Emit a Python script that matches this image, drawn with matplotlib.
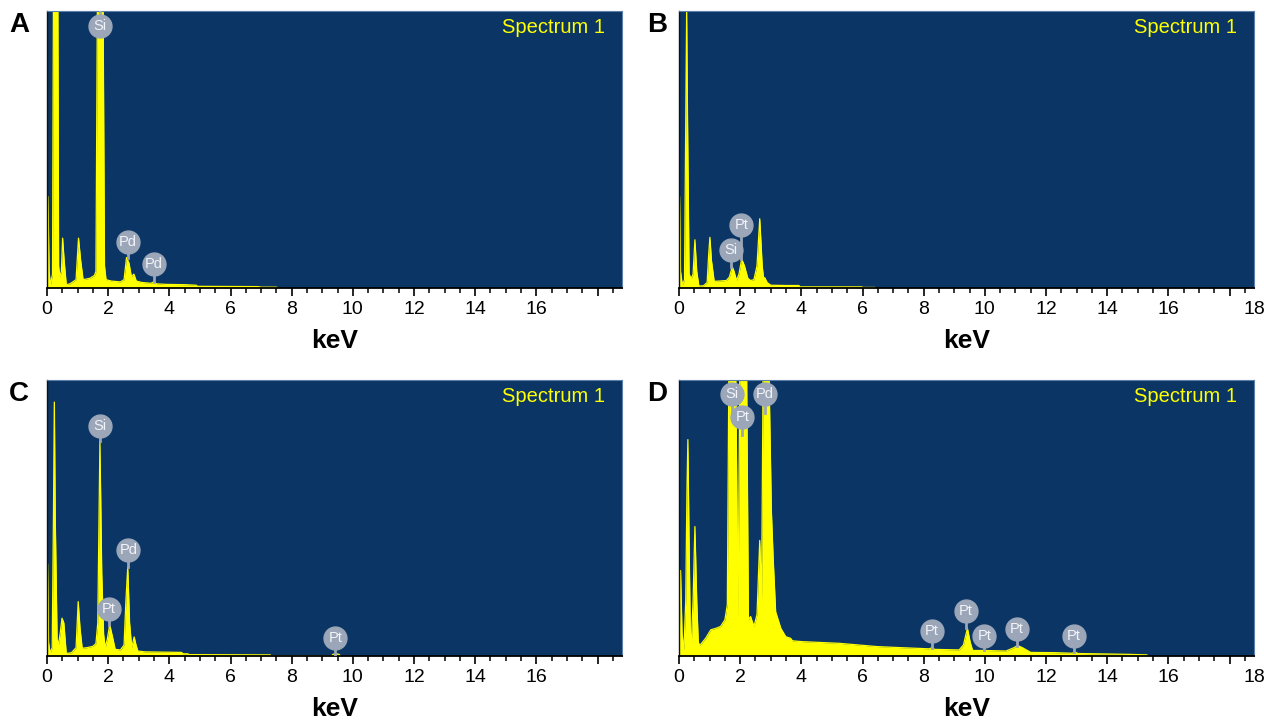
import matplotlib
matplotlib.use("Agg")
import matplotlib.pyplot as plt
from matplotlib.ticker import MultipleLocator

plt.rcParams['font.family'] = ['Liberation Sans', 'DejaVu Sans']

# -------------------------------
# DATA (keV, normalised counts; >1 = clipped peak)
# -------------------------------

energy_a = [0.0, 0.03, 0.07, 0.11, 0.18, 0.215, 0.27, 0.35, 0.38, 0.42, 0.47, 0.51, 0.56,
            0.63, 0.75, 0.95, 1.03, 1.10, 1.18, 1.4, 1.55, 1.60, 1.655, 1.74, 1.825, 1.88,
            1.93, 2.1, 2.4, 2.52, 2.6, 2.68, 2.76, 2.84, 2.92, 3.1, 3.4, 3.49, 3.58, 3.9,
            4.5, 4.88, 4.92, 6.9, 7.0, 7.5, 7.55]
counts_a = [0.0, 0.33, 0.06, 0.01, 0.05, 1.2, 1.5, 1.2, 0.08, 0.04, 0.06, 0.18, 0.10,
            0.012, 0.015, 0.03, 0.18, 0.10, 0.03, 0.035, 0.045, 0.06, 1.2, 1.6, 1.2, 0.08,
            0.03, 0.025, 0.022, 0.03, 0.11, 0.09, 0.04, 0.05, 0.025, 0.02, 0.017, 0.022,
            0.015, 0.013, 0.012, 0.01, 0.006, 0.005, 0.003, 0.003, 0.0]

energy_b = [0.0, 0.02, 0.05, 0.11, 0.18, 0.22, 0.25, 0.28, 0.33, 0.40, 0.46, 0.52, 0.58,
            0.65, 0.80, 0.92, 0.97, 1.01, 1.06, 1.15, 1.3, 1.55, 1.65, 1.74, 1.80, 1.88,
            1.96, 2.05, 2.14, 2.25, 2.34, 2.45, 2.55, 2.64, 2.72, 2.76, 2.81, 2.88, 3.0,
            3.5, 3.92, 3.96, 5.98, 6.0, 6.4, 6.42]
counts_b = [0.0, 0.33, 0.06, 0.01, 0.03, 0.6, 1.0, 0.6, 0.05, 0.034, 0.05, 0.174, 0.06,
            0.007, 0.008, 0.02, 0.12, 0.183, 0.10, 0.024, 0.025, 0.027, 0.04, 0.077, 0.06,
            0.027, 0.05, 0.105, 0.08, 0.035, 0.027, 0.03, 0.08, 0.25, 0.08, 0.04, 0.036,
            0.02, 0.01, 0.009, 0.009, 0.004, 0.004, 0.002, 0.002, 0.0]

energy_c = [0.0, 0.02, 0.05, 0.1, 0.17, 0.21, 0.24, 0.27, 0.33, 0.38, 0.44, 0.49, 0.55,
            0.63, 0.8, 0.95, 1.02, 1.08, 1.15, 1.3, 1.5, 1.6, 1.66, 1.73, 1.79, 1.85, 1.9,
            1.97, 2.05, 2.14, 2.23, 2.4, 2.52, 2.58, 2.64, 2.7, 2.77, 2.85, 2.91, 2.97, 3.2,
            4.4, 4.45, 4.6, 4.65, 7.3, 7.32, 9.3, 9.35, 9.45, 9.55, 9.6]
counts_c = [0.0, 0.334, 0.05, 0.012, 0.03, 0.5, 0.92, 0.5, 0.06, 0.043, 0.09, 0.137, 0.12,
            0.009, 0.012, 0.03, 0.197, 0.1, 0.028, 0.03, 0.035, 0.045, 0.12, 0.778, 0.3,
            0.08, 0.03, 0.06, 0.113, 0.07, 0.024, 0.022, 0.04, 0.2, 0.322, 0.12, 0.03,
            0.069, 0.04, 0.018, 0.015, 0.013, 0.008, 0.008, 0.005, 0.004, 0.0, 0.0, 0.006,
            0.008, 0.006, 0.0]

energy_d = [0.0, 0.05, 0.1, 0.16, 0.22, 0.26, 0.29, 0.32, 0.37, 0.41, 0.46, 0.52, 0.58,
            0.63, 0.68, 0.87, 1.04, 1.2, 1.36, 1.5, 1.58, 1.64, 1.74, 1.84, 1.93, 2.0, 2.10,
            2.2, 2.27, 2.34, 2.45, 2.55, 2.64, 2.70, 2.76, 2.84, 2.93, 3.02, 3.08, 3.16,
            3.33, 3.49, 3.65, 3.71, 4.03, 5.23, 6.49, 7.3, 8.18, 8.27, 8.36, 9.16, 9.3,
            9.43, 9.52, 9.6, 9.98, 10.69, 10.95, 11.07, 11.23, 11.5, 12.3, 12.85, 12.95,
            13.05, 14.7, 15.3, 15.32]
counts_d = [0.0, 0.31, 0.08, 0.02, 0.2, 0.6, 0.784, 0.5, 0.08, 0.064, 0.2, 0.469, 0.2,
            0.05, 0.038, 0.064, 0.095, 0.10, 0.107, 0.131, 0.186, 1.2, 1.5, 1.2, 0.137,
            1.2, 1.5, 1.2, 0.131, 0.143, 0.107, 0.15, 0.419, 0.21, 1.2, 1.5, 1.1, 0.526,
            0.35, 0.16, 0.10, 0.07, 0.064, 0.055, 0.052, 0.046, 0.034, 0.03, 0.026, 0.03,
            0.024, 0.022, 0.04, 0.10, 0.05, 0.02, 0.02, 0.018, 0.03, 0.038, 0.03, 0.013,
            0.012, 0.01, 0.014, 0.009, 0.006, 0.004, 0.0]

# peak markers: element, energy, marker height, peak height
marks_a = [("Si", 1.72, 0.945, 1.0), ("Pd", 2.65, 0.167, 0.11), ("Pd", 3.50, 0.087, 0.02)]
marks_b = [("Si", 1.71, 0.137, 0.077), ("Pt", 2.04, 0.226, 0.105)]
marks_c = [("Si", 1.72, 0.832, 0.778), ("Pt", 2.03, 0.170, 0.113),
           ("Pd", 2.66, 0.383, 0.322), ("Pt", 9.43, 0.067, 0.005)]
marks_d = [("Si", 1.72, 0.949, 0.88), ("Pt", 2.07, 0.866, 0.80), ("Pd", 2.81, 0.948, 0.88),
           ("Pt", 8.27, 0.089, 0.03), ("Pt", 9.38, 0.164, 0.10), ("Pt", 9.98, 0.074, 0.02),
           ("Pt", 11.05, 0.097, 0.038), ("Pt", 12.92, 0.073, 0.014)]

panel_letters = ["A", "B", "C", "D"]
tick_values = [0, 2, 4, 6, 8, 10, 12, 14, 16, 18]
tick_labels = ["0", "2", "4", "6", "8", "10", "12", "14", "16", ""]
end_label = [False, True, False, True]   # "18" printed at the end of the scale

# -------------------------------
# FIGURE
# -------------------------------

BG = "#0a3565"
YEL = "#ffff00"
MARK = "#9ba6b8"

fig = plt.figure(figsize=(12.64, 7.21), dpi=100)

boxes = [
    [47 / 1264, 1 - 288 / 721, 575 / 1264, 277 / 721],
    [679 / 1264, 1 - 288 / 721, 575 / 1264, 277 / 721],
    [47 / 1264, 1 - 656 / 721, 575 / 1264, 276 / 721],
    [679 / 1264, 1 - 656 / 721, 575 / 1264, 276 / 721],
]
letter_pos = [(9, 25), (647, 25), (9, 394), (647, 394)]

spectra = [(energy_a, counts_a, marks_a), (energy_b, counts_b, marks_b),
           (energy_c, counts_c, marks_c), (energy_d, counts_d, marks_d)]

for i, (E, I, marks) in enumerate(spectra):
    ax = fig.add_axes(boxes[i])
    ax.set_facecolor(BG)

    ax.fill_between(E, I, 0, color=YEL, lw=0)
    ax.plot(E, I, color=YEL, lw=0.9)

    for name, x, y, peak in marks:
        ax.plot([x, x], [peak, y], color=MARK, lw=2, zorder=4)
        ax.plot(x, y, "o", ms=16.5, color=MARK, mec=MARK, zorder=5)
        ax.text(x, y, name, color="#f2f4f8", fontsize=10.5, ha="center", va="center", zorder=6)

    ax.text(0.97, 0.94, "Spectrum 1", color=YEL, fontsize=14.5,
            ha="right", va="center", transform=ax.transAxes)

    ax.set_xlim(0, 18.8)
    ax.set_ylim(0, 1)
    ax.set_yticks([])
    ax.set_xticks(tick_values)
    ax.set_xticklabels(tick_labels, fontsize=14)
    ax.xaxis.set_minor_locator(MultipleLocator(0.5))
    ax.tick_params(axis="x", which="major", direction="out", length=6, width=1.2, pad=3)
    ax.tick_params(axis="x", which="minor", direction="out", length=3.5, width=1.1)
    if end_label[i]:
        ax.text(1.0, -0.046, "18", fontsize=14, ha="center", va="top", transform=ax.transAxes)

    ax.set_xlabel("keV", fontsize=19, fontweight="bold", labelpad=8)

    ax.spines["bottom"].set_linewidth(1.3)
    ax.spines["left"].set_linewidth(1.0)
    ax.spines["left"].set_color("#111111")
    for s in ["top", "right"]:
        ax.spines[s].set_color("#5b7fa8")
        ax.spines[s].set_linewidth(0.8)

    lx, ly = letter_pos[i]
    fig.text(lx / 1264, 1 - ly / 721, panel_letters[i], fontsize=20, fontweight="bold",
             ha="left", va="center")

plt.savefig("out.png", dpi=100)
